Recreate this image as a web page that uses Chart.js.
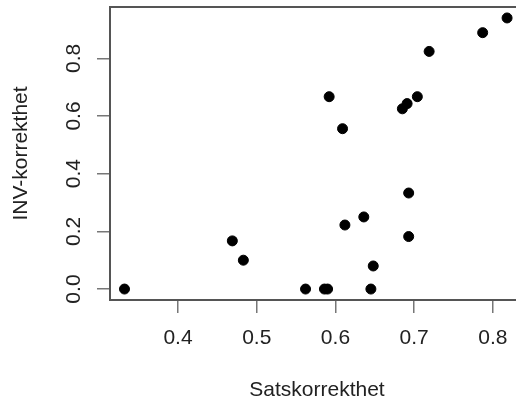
<!DOCTYPE html>
<html>
<head>
<meta charset="utf-8">
<script src="https://cdn.jsdelivr.net/npm/chart.js@4/dist/chart.umd.min.js"></script>
<style>
  html, body { margin: 0; padding: 0; background: #fff; overflow: hidden; }
  #wrap { width: 530px; height: 403px; }
</style>
</head>
<body>
<div id="wrap"><canvas id="c" width="530" height="403"></canvas></div>
<script>
// Sentence accuracy (x) against INV accuracy (y), one point per participant
const satskorrekthet = [0.332, 0.469, 0.483, 0.562, 0.586, 0.590, 0.612, 0.636, 0.645, 0.648,
                        0.693, 0.693, 0.818, 0.787, 0.719, 0.592, 0.609, 0.704, 0.691, 0.685];
const invKorrekthet  = [0.000, 0.167, 0.100, 0.000, 0.000, 0.000, 0.222, 0.250, 0.000, 0.080,
                        0.333, 0.182, 0.940, 0.889, 0.824, 0.667, 0.556, 0.667, 0.643, 0.625];

const xTicks = [0.4, 0.5, 0.6, 0.7, 0.8];
const yTicks = [0.0, 0.2, 0.4, 0.6, 0.8];
const xLabel = 'Satskorrekthet';
const yLabel = 'INV-korrekthet';

const points = satskorrekthet.map((x, i) => ({ x: x, y: invKorrekthet[i] }));

const FONT = '"Liberation Sans", Arial, Helvetica, sans-serif';
Chart.defaults.font.family = FONT;
Chart.defaults.font.size = 21;
Chart.defaults.color = '#222';

// Closes the plot box along the top edge
const topEdge = {
  id: 'topEdge',
  afterDraw(chart) {
    const { ctx, chartArea } = chart;
    ctx.save();
    ctx.strokeStyle = '#555';
    ctx.lineWidth = 2;
    ctx.beginPath();
    ctx.moveTo(chartArea.left - 1, chartArea.top);
    ctx.lineTo(chartArea.right + 1, chartArea.top);
    ctx.stroke();
    ctx.restore();
  }
};

new Chart(document.getElementById('c'), {
  type: 'scatter',
  data: {
    datasets: [{
      data: points,
      backgroundColor: '#000',
      borderColor: '#000',
      borderWidth: 1,
      pointRadius: 5,
      pointHoverRadius: 5
    }]
  },
  options: {
    responsive: false,
    animation: false,
    events: [],
    layout: { padding: { top: 7, right: 5, bottom: 0, left: 0 } },
    plugins: { legend: { display: false }, tooltip: { enabled: false } },
    scales: {
      x: {
        type: 'linear',
        min: 0.3136,
        max: 0.8395,
        afterBuildTicks: s => { s.ticks = xTicks.map(v => ({ value: v })); },
        afterFit: s => { s.height = 103; s.paddingLeft = 0; s.paddingRight = 0; },
        ticks: {
          padding: 13,
          maxRotation: 0,
          minRotation: 0,
          callback: v => v.toFixed(1)
        },
        grid: { drawOnChartArea: false, tickLength: 13, color: '#777', lineWidth: 1.5 },
        border: { display: true, color: '#555', width: 2 },
        title: { display: true, text: xLabel, padding: { top: 0, bottom: 0 } }
      },
      y: {
        type: 'linear',
        min: -0.038,
        max: 0.978,
        afterBuildTicks: s => { s.ticks = yTicks.map(v => ({ value: v })); },
        afterFit: s => { s.width = 110; s.paddingTop = 0; s.paddingBottom = 0; },
        ticks: {
          padding: 8,
          minRotation: 90,
          maxRotation: 90,
          crossAlign: 'center',
          callback: v => v.toFixed(1)
        },
        grid: { drawOnChartArea: false, tickLength: 13, color: '#777', lineWidth: 1.5 },
        border: { display: true, color: '#555', width: 2 },
        title: { display: true, text: yLabel, padding: { top: 9, bottom: 0 } }
      }
    }
  },
  plugins: [topEdge]
});
</script>
</body>
</html>
